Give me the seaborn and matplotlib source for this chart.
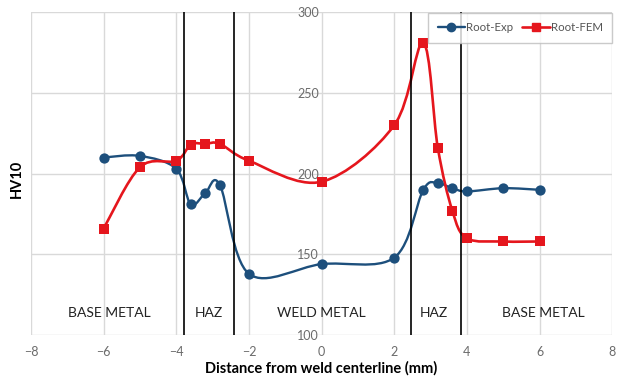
import numpy as np
import pandas as pd
import matplotlib
matplotlib.use("Agg")
import matplotlib.pyplot as plt
import seaborn as sns
from matplotlib.path import Path
from matplotlib.patches import PathPatch
from matplotlib.lines import Line2D

distance = [-6, -5, -4, -3.6, -3.2, -2.8, -2, 0, 2, 2.8, 3.2, 3.6, 4, 5, 6]
root_exp = [210, 211, 203, 181, 188, 193, 138, 144, 148, 190, 194, 191, 189, 191, 190]
root_fem = [166, 204, 208, 218, 218.5, 218.5, 208, 195, 230, 281, 216, 177, 160, 158, 158]
series_names = ["Root-Exp", "Root-FEM"]
zone_bounds = [-3.8, -2.4, 2.45, 3.85]
zone_labels = ["BASE METAL", "HAZ", "WELD METAL", "HAZ", "BASE METAL"]
zone_label_x = [-5.85, -3.1, 0.0, 3.1, 6.1]
zone_label_y = 114
x_ticks = [-8, -6, -4, -2, 0, 2, 4, 6, 8]
y_ticks = [100, 150, 200, 250, 300]

df = pd.DataFrame({"distance": distance, "Root-Exp": root_exp, "Root-FEM": root_fem})

sns.set_theme(style="white")
plt.rcParams["font.family"] = ["Lato", "DejaVu Sans"]

fig = plt.figure(figsize=(6.19, 3.80), dpi=100)
ax = fig.add_axes([0.050, 0.118, 0.939, 0.850])

blue = "#1d4f7c"
red = "#e5161d"


def smooth_path(x, y):
    pts = np.column_stack([x, y]).astype(float)
    n = len(pts)
    verts = [pts[0]]
    codes = [Path.MOVETO]
    for i in range(n - 1):
        p0 = pts[i - 1] if i > 0 else pts[i]
        p1 = pts[i]
        p2 = pts[i + 1]
        p3 = pts[i + 2] if i + 2 < n else pts[i + 1]
        c1 = p1 + (p2 - p0) / 6.0
        c2 = p2 - (p3 - p1) / 6.0
        verts += [c1, c2, p2]
        codes += [Path.CURVE4] * 3
    return Path(verts, codes)


for name, col, mk, lw in [("Root-Exp", blue, "o", 1.7), ("Root-FEM", red, "s", 1.9)]:
    patch = PathPatch(smooth_path(df["distance"], df[name]), facecolor="none",
                      edgecolor=col, lw=lw, zorder=3)
    ax.add_patch(patch)
    sns.scatterplot(data=df, x="distance", y=name, marker=mk, color=col,
                    s=55 if mk == "o" else 50, edgecolor=col, linewidth=0,
                    ax=ax, zorder=4, legend=False)

for xb in zone_bounds:
    ax.axvline(xb, color="black", lw=1.2, zorder=5)

for lab, lx in zip(zone_labels, zone_label_x):
    ax.text(lx, zone_label_y, lab, ha="center", va="center", fontsize=10,
            color="#222222", zorder=6)

ax.set_xlim(-8, 8)
ax.set_ylim(100, 300)
ax.set_xticks(x_ticks)
ax.set_yticks(y_ticks)
ax.grid(True, color="#d9d9d9", lw=1.0)
ax.set_axisbelow(True)
for s in ax.spines.values():
    s.set_visible(False)
ax.spines["left"].set_position(("data", 0))
ax.tick_params(axis="both", length=0, labelsize=9, labelcolor="#6b6b6b")
ax.tick_params(axis="x", pad=8)
ax.tick_params(axis="y", pad=2)

ax.set_xlabel("Distance from weld centerline (mm)", fontsize=10.5,
              fontweight="bold", color="black", labelpad=2)
ax.set_ylabel("")
fig.text(0.028, 0.53, "HV10", rotation=90, fontsize=10.5, fontweight="bold",
         ha="center", va="center", color="black")

handles = [Line2D([0], [0], color=blue, lw=1.7, marker="o", markersize=6),
           Line2D([0], [0], color=red, lw=1.9, marker="s", markersize=6)]
leg = ax.legend(handles, series_names, loc="upper right", bbox_to_anchor=(1.0, 0.997),
                ncol=2, frameon=True, fancybox=False, fontsize=8.3,
                handlelength=2.4, columnspacing=0.75, handletextpad=0.1,
                borderpad=0.8, borderaxespad=0.0)
leg.get_frame().set_edgecolor("#bdbdbd")
leg.get_frame().set_linewidth(1.0)
for t in leg.get_texts():
    t.set_color("#555555")
leg.set_zorder(7)

fig.savefig("out.png", dpi=100, facecolor="white")
